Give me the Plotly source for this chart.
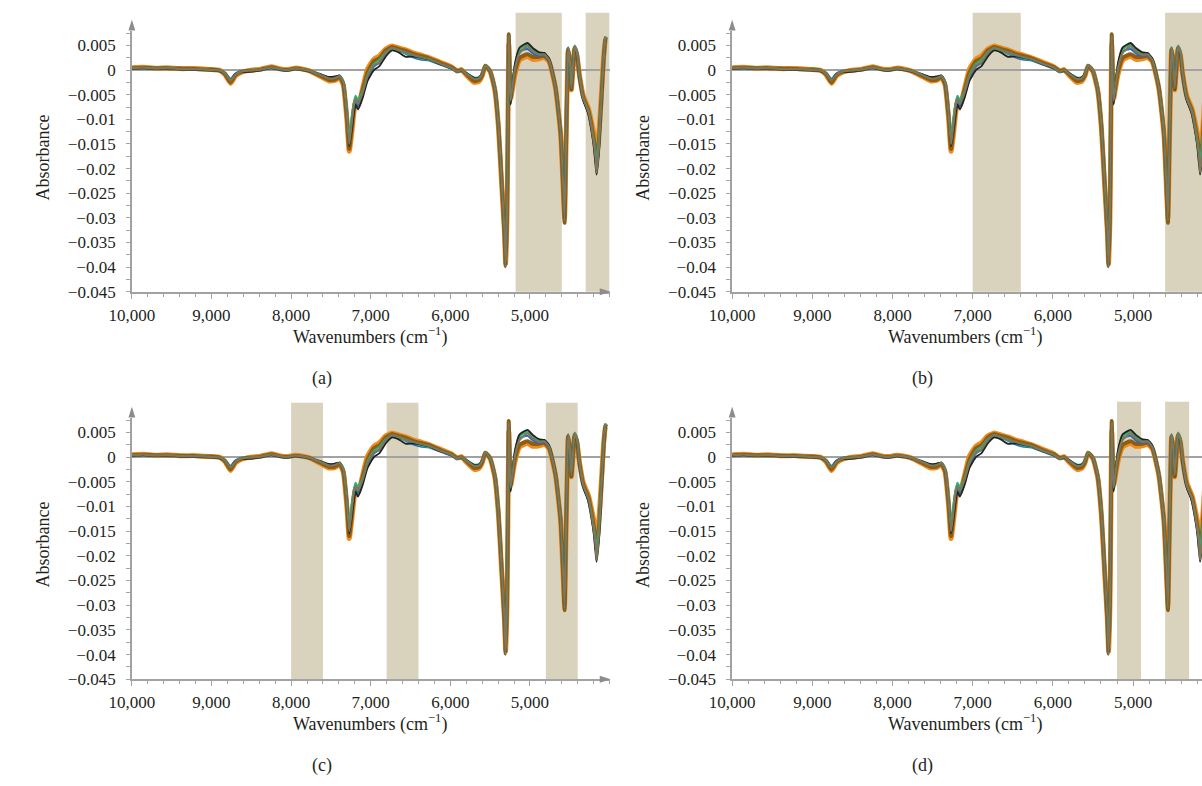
import plotly.graph_objects as go

# ---------------------------------------------------------------------------
# NIR spectra (same sample set shown in all four panels)
# ---------------------------------------------------------------------------
wavenumber = [
    10000, 9850, 9700, 9550, 9400, 9200, 9000, 8900, 8830, 8760,
    8700, 8620, 8500, 8380, 8250, 8150, 8050, 7950, 7850, 7760,
    7640, 7520, 7450, 7390, 7345, 7300, 7270, 7240, 7210, 7190,
    7160, 7100, 7040, 6960, 6890, 6810, 6730, 6650, 6560, 6470,
    6360, 6280, 6110, 5990, 5910, 5860, 5800, 5700, 5640, 5600,
    5560, 5500, 5440, 5395, 5355, 5320, 5305, 5288, 5274, 5266,
    5256, 5242, 5190, 5130, 5030, 4965, 4880, 4820, 4760, 4680,
    4615, 4585, 4565, 4548, 4532, 4520, 4500, 4480, 4458, 4438,
    4410, 4380, 4330, 4265, 4205, 4175, 4163, 4135, 4100, 4073,
    4052, 4040,
]

absorb_orange = [
    0.0005, 0.0006, 0.0004, 0.0005, 0.0003, 0.0003, 0.0001, 0.0000, -0.0009, -0.0027,
    -0.0012, -0.0004, 0.0000, 0.0002, 0.0007, 0.0003, 0.0001, 0.0004, 0.0002, -0.0002,
    -0.0012, -0.0022, -0.0021, -0.0016, -0.0030, -0.0100, -0.0165, -0.0130, -0.0085, -0.0065,
    -0.0074, -0.0036, 0.0002, 0.0022, 0.0029, 0.0043, 0.0049, 0.0045, 0.0041, 0.0035,
    0.0030, 0.0026, 0.0015, 0.0007, -0.0002, 0.0001, -0.0010, -0.0025, -0.0023, -0.0012,
    0.0008, -0.0003, -0.0042, -0.0118, -0.0232, -0.0330, -0.0392, -0.0300, -0.0070, 0.0052,
    -0.0006, -0.0058, -0.0010, 0.0020, 0.0028, 0.0022, 0.0023, 0.0026, 0.0017, -0.0036,
    -0.0130, -0.0232, -0.0300, -0.0168, -0.0030, 0.0040, 0.0018, -0.0040, 0.0005, 0.0043,
    0.0030, -0.0008, -0.0052, -0.0078, -0.0122, -0.0148, -0.0158, -0.0128, -0.0042, 0.0030,
    0.0060, 0.0062,
]

absorb_brown = [
    0.0004, 0.0005, 0.0004, 0.0004, 0.0003, 0.0002, 0.0001, -0.0001, -0.0008, -0.0025,
    -0.0010, -0.0003, -0.0001, 0.0001, 0.0006, 0.0002, 0.0000, 0.0003, 0.0001, -0.0002,
    -0.0011, -0.0020, -0.0019, -0.0014, -0.0028, -0.0095, -0.0160, -0.0120, -0.0076, -0.0060,
    -0.0070, -0.0040, -0.0005, 0.0018, 0.0024, 0.0040, 0.0047, 0.0043, 0.0039, 0.0033,
    0.0028, 0.0025, 0.0013, 0.0006, -0.0002, 0.0000, -0.0008, -0.0022, -0.0020, -0.0010,
    0.0009, -0.0002, -0.0040, -0.0115, -0.0228, -0.0332, -0.0398, -0.0296, -0.0065, 0.0073,
    0.0010, -0.0055, -0.0004, 0.0025, 0.0032, 0.0027, 0.0027, 0.0029, 0.0019, -0.0034,
    -0.0128, -0.0230, -0.0310, -0.0164, -0.0028, 0.0043, 0.0020, -0.0039, 0.0007, 0.0046,
    0.0033, -0.0010, -0.0056, -0.0082, -0.0133, -0.0165, -0.0188, -0.0148, -0.0052, 0.0025,
    0.0063, 0.0067,
]

absorb_blue = [
    0.0003, 0.0004, 0.0003, 0.0003, 0.0002, 0.0001, 0.0000, -0.0001, -0.0006, -0.0018,
    -0.0007, -0.0002, -0.0002, 0.0000, 0.0004, 0.0001, -0.0001, 0.0002, 0.0000, -0.0003,
    -0.0008, -0.0016, -0.0015, -0.0012, -0.0024, -0.0085, -0.0138, -0.0118, -0.0080, -0.0066,
    -0.0075, -0.0050, -0.0016, 0.0007, 0.0015, 0.0033, 0.0042, 0.0039, 0.0033, 0.0026,
    0.0021, 0.0020, 0.0010, 0.0003, -0.0004, -0.0002, -0.0006, -0.0016, -0.0015, -0.0007,
    0.0009, 0.0000, -0.0036, -0.0108, -0.0222, -0.0322, -0.0396, -0.0290, -0.0058, 0.0048,
    -0.0010, -0.0068, 0.0006, 0.0038, 0.0043, 0.0034, 0.0029, 0.0030, 0.0020, -0.0031,
    -0.0124, -0.0222, -0.0296, -0.0156, -0.0022, 0.0046, 0.0023, -0.0036, 0.0010, 0.0048,
    0.0036, -0.0012, -0.0060, -0.0087, -0.0140, -0.0175, -0.0195, -0.0150, -0.0055, 0.0022,
    0.0058, 0.0062,
]

absorb_green = [
    0.0004, 0.0004, 0.0003, 0.0004, 0.0002, 0.0002, 0.0000, -0.0001, -0.0006, -0.0019,
    -0.0008, -0.0003, -0.0001, 0.0001, 0.0005, 0.0002, 0.0000, 0.0003, 0.0001, -0.0002,
    -0.0008, -0.0015, -0.0014, -0.0011, -0.0022, -0.0080, -0.0135, -0.0095, -0.0064, -0.0052,
    -0.0060, -0.0042, -0.0009, 0.0013, 0.0021, 0.0037, 0.0043, 0.0039, 0.0034, 0.0029,
    0.0023, 0.0021, 0.0011, 0.0004, -0.0004, -0.0001, -0.0006, -0.0015, -0.0014, -0.0007,
    0.0010, 0.0000, -0.0035, -0.0106, -0.0220, -0.0320, -0.0390, -0.0288, -0.0055, 0.0044,
    -0.0004, -0.0064, 0.0010, 0.0042, 0.0052, 0.0042, 0.0033, 0.0034, 0.0023, -0.0030,
    -0.0122, -0.0220, -0.0292, -0.0152, -0.0020, 0.0047, 0.0024, -0.0035, 0.0012, 0.0050,
    0.0038, -0.0010, -0.0057, -0.0084, -0.0135, -0.0170, -0.0185, -0.0142, -0.0050, 0.0026,
    0.0064, 0.0068,
]

absorb_black = [
    0.0003, 0.0004, 0.0002, 0.0003, 0.0001, 0.0001, -0.0001, -0.0002, -0.0007, -0.0020,
    -0.0008, -0.0004, -0.0003, 0.0000, 0.0004, 0.0001, -0.0001, 0.0002, 0.0000, -0.0003,
    -0.0008, -0.0014, -0.0013, -0.0011, -0.0026, -0.0088, -0.0155, -0.0125, -0.0086, -0.0070,
    -0.0080, -0.0056, -0.0022, 0.0000, 0.0008, 0.0028, 0.0040, 0.0036, 0.0027, 0.0028,
    0.0025, 0.0022, 0.0011, 0.0004, -0.0003, -0.0001, -0.0006, -0.0016, -0.0015, -0.0007,
    0.0009, -0.0001, -0.0037, -0.0110, -0.0224, -0.0326, -0.0397, -0.0292, -0.0062, 0.0060,
    -0.0002, -0.0070, 0.0012, 0.0046, 0.0055, 0.0045, 0.0036, 0.0035, 0.0024, -0.0030,
    -0.0126, -0.0225, -0.0302, -0.0158, -0.0024, 0.0044, 0.0021, -0.0040, 0.0008, 0.0047,
    0.0031, -0.0016, -0.0062, -0.0090, -0.0146, -0.0195, -0.0212, -0.0172, -0.0065, 0.0018,
    0.0060, 0.0064,
]

absorb_olive = [
    0.0004, 0.0005, 0.0003, 0.0004, 0.0002, 0.0002, 0.0000, -0.0001, -0.0007, -0.0021,
    -0.0009, -0.0003, -0.0001, 0.0001, 0.0005, 0.0002, 0.0000, 0.0003, 0.0001, -0.0002,
    -0.0009, -0.0017, -0.0016, -0.0012, -0.0025, -0.0090, -0.0150, -0.0110, -0.0070, -0.0058,
    -0.0068, -0.0045, -0.0012, 0.0010, 0.0016, 0.0035, 0.0045, 0.0041, 0.0036, 0.0031,
    0.0026, 0.0023, 0.0012, 0.0005, -0.0003, 0.0000, -0.0007, -0.0018, -0.0017, -0.0008,
    0.0009, -0.0001, -0.0038, -0.0112, -0.0226, -0.0327, -0.0400, -0.0294, -0.0060, 0.0070,
    0.0000, -0.0062, 0.0002, 0.0035, 0.0048, 0.0038, 0.0031, 0.0032, 0.0021, -0.0032,
    -0.0126, -0.0226, -0.0305, -0.0160, -0.0025, 0.0045, 0.0022, -0.0038, 0.0009, 0.0048,
    0.0035, -0.0011, -0.0058, -0.0085, -0.0139, -0.0180, -0.0208, -0.0160, -0.0058, 0.0022,
    0.0062, 0.0066,
]

# drawing order (bottom to top), colour and line width of each sample
samples = [
    (absorb_orange, "#f28a1c", 5.0),
    (absorb_brown, "#8a5e16", 4.0),
    (absorb_blue, "#2a68c0", 2.0),
    (absorb_green, "#2cb17a", 2.0),
    (absorb_black, "#222222", 1.8),
    (absorb_olive, "#7e7759", 2.2),
]

# axis ticks
x_tick_values = [10000, 9000, 8000, 7000, 6000, 5000]
x_tick_labels = ["10,000", "9,000", "8,000", "7,000", "6,000", "5,000"]
y_tick_values = [0.005, 0, -0.005, -0.01, -0.015, -0.02, -0.025, -0.03, -0.035, -0.04, -0.045]
y_tick_labels = ["0.005", "0", "\u22120.005", "\u22120.01", "\u22120.015", "\u22120.02",
                 "\u22120.025", "\u22120.03", "\u22120.035", "\u22120.04", "\u22120.045"]

# selected spectral windows per panel (start, end in cm-1)
bands = {
    "a": [(5180, 4600), (4300, 4000)],
    "b": [(7000, 6400), (4600, 4000)],
    "c": [(8000, 7600), (6800, 6400), (4800, 4400)],
    "d": [(5200, 4900), (4600, 4300)],
}

# ---------------------------------------------------------------------------
# Page geometry (pixels)
# ---------------------------------------------------------------------------
W, H = 1202, 786
Y_MIN = -0.045

panels = {
    "a": dict(xl=111, xr=598, xend=4000, y0=71, yb=295.5, yt=31, bt=13),
    "b": dict(xl=723, xr=1202, xend=4140, y0=71, yb=295.5, yt=31, bt=13),
    "c": dict(xl=111, xr=598, xend=4000, y0=463, yb=688, yt=423, bt=408),
    "d": dict(xl=723, xr=1202, xend=4140, y0=463, yb=688, yt=423, bt=407),
}

AXIS_COLOR = "#a2a2a2"
TEXT_COLOR = "#231f20"
FONT = "Liberation Serif"
BAND_COLOR = "#d9d3bd"


def fx(px):
    return px / W


def fy(py):
    return 1 - py / H


fig = go.Figure()
shapes = []
annotations = []

for i, (key, p) in enumerate(panels.items(), start=1):
    xa = "x" if i == 1 else f"x{i}"
    ya = "y" if i == 1 else f"y{i}"
    scale = (p["yb"] - p["y0"]) / (-Y_MIN)
    y_top_val = (p["y0"] - p["yt"]) / scale

    for vals, color, width in samples:
        fig.add_trace(go.Scatter(
            x=wavenumber, y=vals, mode="lines",
            line=dict(color=color, width=width, shape="spline", smoothing=0.5),
            xaxis=xa, yaxis=ya, hoverinfo="skip", showlegend=False,
        ))

    axis_suffix = "" if i == 1 else str(i)
    fig.update_layout(**{
        f"xaxis{axis_suffix}": dict(
            domain=[fx(p["xl"]), fx(p["xr"])],
            range=[10000, p["xend"]],
            anchor=ya,
            tickmode="array", tickvals=x_tick_values, ticktext=x_tick_labels,
            ticks="outside", ticklen=5, tickwidth=1.2, tickcolor=AXIS_COLOR,
            minor=dict(tickmode="linear", tick0=0, dtick=200, ticks="outside",
                       ticklen=3, tickwidth=1, tickcolor=AXIS_COLOR),
            showline=True, linecolor=AXIS_COLOR, linewidth=1.6,
            showgrid=False, zeroline=False,
            tickfont=dict(family=FONT, size=17, color=TEXT_COLOR),
            ticklabelstandoff=2,
        ),
        f"yaxis{axis_suffix}": dict(
            domain=[fy(p["yb"]), fy(p["yt"])],
            range=[Y_MIN, y_top_val],
            anchor=xa,
            tickmode="array", tickvals=y_tick_values, ticktext=y_tick_labels,
            ticks="outside", ticklen=4, tickwidth=1.2, tickcolor=AXIS_COLOR,
            minor=dict(tickmode="linear", tick0=0, dtick=0.0025, ticks="outside",
                       ticklen=4, tickwidth=1, tickcolor=AXIS_COLOR),
            showline=True, linecolor=AXIS_COLOR, linewidth=1.6,
            showgrid=False,
            zeroline=True, zerolinecolor=AXIS_COLOR, zerolinewidth=1.6,
            tickfont=dict(family=FONT, size=17, color=TEXT_COLOR),
            ticklabelstandoff=7,
        ),
    })

    # shaded wavenumber windows
    for start, end in bands[key]:
        shapes.append(dict(
            type="rect", xref=xa, yref="paper",
            x0=start, x1=end, y0=fy(p["yb"]), y1=fy(p["bt"]),
            fillcolor=BAND_COLOR, line=dict(width=0), layer="below",
        ))

    # arrow head on top of the absorbance axis
    ax_x, tip_y, base_y = p["xl"], p["yt"] - 11, p["yt"]
    shapes.append(dict(
        type="path", xref="paper", yref="paper",
        path=(f"M {fx(ax_x - 3.5)} {fy(base_y)} L {fx(ax_x)} {fy(tip_y)} "
              f"L {fx(ax_x + 3.5)} {fy(base_y)} Z"),
        fillcolor="#8c8c8c", line=dict(width=0), layer="above",
    ))
    # arrow head at the end of the wavenumber axis
    if p["xr"] < W - 5:
        tip_x = p["xr"] + 1
        shapes.append(dict(
            type="path", xref="paper", yref="paper",
            path=(f"M {fx(tip_x - 11)} {fy(p['yb'] - 3.5)} L {fx(tip_x)} {fy(p['yb'])} "
                  f"L {fx(tip_x - 11)} {fy(p['yb'] + 3.5)} Z"),
            fillcolor="#8c8c8c", line=dict(width=0), layer="above",
        ))

    # axis titles and panel label
    left_off = 0 if p["xl"] < 300 else 612
    top_off = 0 if p["y0"] < 200 else 392
    annotations.append(dict(
        text="Absorbance", textangle=-90, xref="paper", yref="paper",
        x=fx(20 + left_off), y=fy(160 + top_off), showarrow=False,
        font=dict(family=FONT, size=18, color=TEXT_COLOR),
        xanchor="center", yanchor="middle",
    ))
    annotations.append(dict(
        text="Wavenumbers (cm<sup>\u22121</sup>)", xref="paper", yref="paper",
        x=fx(354 + (606 if left_off else 0)), y=fy(340 + top_off), showarrow=False,
        font=dict(family=FONT, size=18, color=TEXT_COLOR),
        xanchor="center", yanchor="middle",
    ))
    annotations.append(dict(
        text=f"({key})", xref="paper", yref="paper",
        x=fx(305 + left_off), y=fy(383 + top_off), showarrow=False,
        font=dict(family=FONT, size=18, color=TEXT_COLOR),
        xanchor="center", yanchor="middle",
    ))

fig.update_layout(
    width=W, height=H,
    margin=dict(l=0, r=0, t=0, b=0),
    paper_bgcolor="white", plot_bgcolor="white",
    showlegend=False,
    shapes=shapes, annotations=annotations,
)

fig.write_html("out.html")
